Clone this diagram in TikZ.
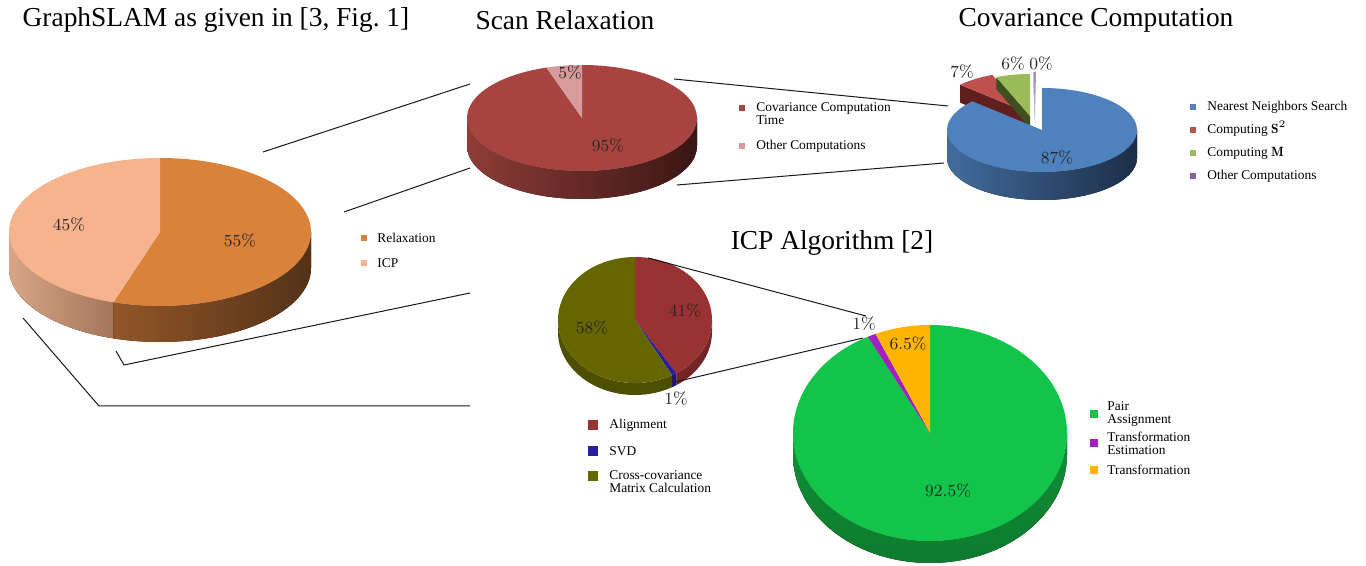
\documentclass[tikz,border=0pt]{standalone}
\usepackage{fontspec}
\usepackage{amsmath}
\usetikzlibrary{calc,positioning}
\newfontfamily\tms{Liberation Serif}

\definecolor{RelaxTop}{RGB}{217,130,59}
\definecolor{RelaxSideL}{RGB}{146,86,40}
\definecolor{RelaxSideR}{RGB}{84,50,24}
\definecolor{IcpTop}{RGB}{245,180,142}
\definecolor{IcpSideL}{RGB}{216,165,135}
\definecolor{IcpSideR}{RGB}{164,118,92}
\definecolor{CovTop}{RGB}{168,68,64}
\definecolor{CovSideL}{RGB}{142,60,56}
\definecolor{CovSideR}{RGB}{58,22,20}
\definecolor{OtherTop}{RGB}{214,155,154}
\definecolor{NnsBlue}{RGB}{79,129,189}
\definecolor{NnsSideL}{RGB}{66,108,158}
\definecolor{NnsSideR}{RGB}{28,46,72}
\definecolor{SRed}{RGB}{192,80,77}
\definecolor{SRedDark}{RGB}{96,30,28}
\definecolor{MGreen}{RGB}{155,187,89}
\definecolor{MGreenDark}{RGB}{62,78,30}
\definecolor{OtherPurple}{RGB}{128,100,162}
\definecolor{AlignRed}{RGB}{153,51,51}
\definecolor{AlignSide}{RGB}{116,38,38}
\definecolor{SvdBlue}{RGB}{40,30,160}
\definecolor{XcovOlive}{RGB}{102,102,0}
\definecolor{XcovSide}{RGB}{78,78,0}
\definecolor{PairGreen}{RGB}{18,196,74}
\definecolor{PairSide}{RGB}{14,122,46}
\definecolor{EstPurple}{RGB}{160,32,192}
\definecolor{TransOrange}{RGB}{255,180,0}

\tikzset{
  ttl/.style={font=\tms\fontsize{13.7}{15}\selectfont},
  pct/.style={font=\fontsize{8.5}{10}\selectfont,text=black!85},
  leg/.style={font=\tms\fontsize{6.7}{6.6}\selectfont,anchor=west,align=left,inner sep=0pt},
  legbox/.style={minimum size=3.4pt,inner sep=0pt,fill=#1},
  zoomline/.style={black!90,line width=0.5pt},
}

% top face, side band and radial face of a 3D pie slice
\newcommand{\pietop}[6]{\fill[#6] ($(#1)+(#4:#2 and #3)$) arc[start angle=#4,end angle=#5,x radius=#2,y radius=#3] -- (#1) -- cycle;}
\newcommand{\pieside}[7]{\fill[#7] ($(#1)+(#5:#2 and #3)$) arc[start angle=#5,end angle=#6,x radius=#2,y radius=#3] -- ++(0,#4) arc[start angle=#6,end angle=#5,x radius=#2,y radius=#3] -- cycle;}
\newcommand{\pieface}[6]{\fill[#6] (#1) -- ($(#1)+(#5:#2 and #3)$) -- ++(0,#4) -- ($(#1)+(0,#4)$) -- cycle;}

\begin{document}
\begin{tikzpicture}[x=0.5pt,y=-0.5pt]
    \useasboundingbox (0,0) rectangle (1366,566);

    % Titles
    \node[ttl] (tslam) at (216,20) {GraphSLAM as given in [3, Fig.~1]};
    \node[ttl] (tscan) at (565,20) {Scan Relaxation};
    \node[ttl] (tcov) at (1096,20) {Covariance Computation};
    \node[ttl] (ticp) at (832,243) {ICP Algorithm [2]};

    % Pie centres
    \coordinate (slamc) at (160,232);
    \coordinate (scanc) at (582,118);
    \coordinate (covc) at (1042,130);
    \coordinate (redc) at (1026,112);
    \coordinate (grnc) at (1030,116);
    \coordinate (purc) at (1035,114);
    \coordinate (icpsc) at (635,320);
    \coordinate (icpbc) at (930,433);

    % GraphSLAM pie
    \pieside{slamc}{151}{74}{36}{0}{108}{left color=RelaxSideL,right color=RelaxSideR}
    \pieside{slamc}{151}{74}{36}{108}{180}{left color=IcpSideL,right color=IcpSideR}
    \pietop{slamc}{151}{74}{-90}{108}{RelaxTop}
    \pietop{slamc}{151}{74}{108}{270}{IcpTop}
    \node[pct] (p45) at (69,225) {45\%};
    \node[pct] (p55) at (240,241) {55\%};

    % Scan relaxation pie
    \pieside{scanc}{115}{53}{28}{0}{180}{left color=CovSideL,right color=CovSideR}
    \pietop{scanc}{115}{53}{-90}{252}{CovTop}
    \pietop{scanc}{115}{53}{252}{270}{OtherTop}
    \node[pct] (p5) at (570,73) {5\%};
    \node[pct] (p95) at (608,146) {95\%};

    % Covariance computation pie
    \pieface{redc}{90}{40}{18}{223}{SRedDark}
    \pietop{redc}{90}{40}{223}{248}{SRed}
    \pieface{grnc}{90}{42}{12}{248}{MGreenDark}
    \pietop{grnc}{90}{42}{248}{270}{MGreen}
    \pieface{purc}{95}{42}{12}{269}{OtherPurple!70}
    \pietop{purc}{95}{42}{269}{270.6}{OtherPurple!70}
    \pieside{covc}{95}{42}{28}{0}{180}{left color=NnsSideL,right color=NnsSideR}
    \pietop{covc}{95}{42}{-90}{223}{NnsBlue}
    \node[pct] (p7) at (962,72) {7\%};
    \node[pct] (p6) at (1013,64) {6\%};
    \node[pct] (p0) at (1041,64) {0\%};
    \node[pct] (p87) at (1057,158) {87\%};

    % ICP small pie
    \pieside{icpsc}{77}{63}{12}{0}{57.6}{AlignSide}
    \pieside{icpsc}{77}{63}{12}{57.6}{61.2}{SvdBlue!70!black}
    \pieside{icpsc}{77}{63}{12}{61.2}{180}{XcovSide}
    \pietop{icpsc}{77}{63}{-90}{57.6}{AlignRed}
    \pietop{icpsc}{77}{63}{57.6}{61.2}{SvdBlue}
    \pietop{icpsc}{77}{63}{61.2}{270}{XcovOlive}
    \node[pct] (p41) at (685,311) {41\%};
    \node[pct] (p58) at (592,328) {58\%};
    \node[pct] (p1s) at (676,399) {1\%};

    % ICP big pie
    \pieside{icpbc}{137}{108}{22}{0}{180}{top color=PairSide!70!PairGreen,bottom color=PairSide}
    \pietop{icpbc}{137}{108}{-90}{243}{PairGreen}
    \pietop{icpbc}{137}{108}{243}{246.6}{EstPurple}
    \pietop{icpbc}{137}{108}{246.6}{270}{TransOrange}
    \node[pct] (p1b) at (864,324) {1\%};
    \node[pct] (p65) at (908,344) {6.5\%};
    \node[pct] (p925) at (948,491) {92.5\%};

    % Legends
    \node[legbox=RelaxTop] (krelax) at (364,238) {};
    \node[leg] (lrelax) at (377,238) {Relaxation};
    \node[legbox=IcpTop] (kicp) at (364,263) {};
    \node[leg] (licp) at (377,263) {ICP};

    \node[legbox=CovTop] (kcovt) at (742,108) {};
    \node[leg] (lcovt) at (756,114) {Covariance Computation\\Time};
    \node[legbox=OtherTop] (koth) at (742,146) {};
    \node[leg] (loth) at (756,146) {Other Computations};

    \node[legbox=NnsBlue] (knns) at (1193,107) {};
    \node[leg] (lnns) at (1207,107) {Nearest Neighbors Search};
    \node[legbox=SRed] (ks) at (1193,130) {};
    \node[leg] (ls) at (1207,129) {Computing $\mathbf{S}^2$};
    \node[legbox=MGreen] (km) at (1193,153) {};
    \node[leg] (lm) at (1207,153) {Computing $\mathbf{M}$};
    \node[legbox=OtherPurple] (kop) at (1193,176) {};
    \node[leg] (lop) at (1207,176) {Other Computations};

    \node[legbox=AlignRed,minimum size=4.6pt] (kal) at (593,425) {};
    \node[leg] (lal) at (609,425) {Alignment};
    \node[legbox=SvdBlue,minimum size=4.6pt] (ksvd) at (593,451) {};
    \node[leg] (lsvd) at (609,451) {SVD};
    \node[legbox=XcovOlive,minimum size=4.6pt] (kxc) at (593,476) {};
    \node[leg] (lxc) at (609,482) {Cross-covariance\\Matrix Calculation};

    \node[legbox=PairGreen,minimum size=4pt] (kpa) at (1094,414) {};
    \node[leg] (lpa) at (1107,414) {Pair\\Assignment};
    \node[legbox=EstPurple,minimum size=4pt] (kte) at (1094,443) {};
    \node[leg] (lte) at (1107,443) {Transformation\\Estimation};
    \node[legbox=TransOrange,minimum size=4pt] (ktr) at (1094,470) {};
    \node[leg] (ltr) at (1107,470) {Transformation};

    % Zoom lines
    \coordinate (l1a) at (263,152); \coordinate (l1b) at (470,84);
    \coordinate (l2a) at (344,212); \coordinate (l2b) at (470,168);
    \coordinate (l3a) at (674,79); \coordinate (l3b) at (948,106);
    \coordinate (l4a) at (677,185); \coordinate (l4b) at (944,163);
    \coordinate (l5a) at (116,351); \coordinate (l5k) at (124,365); \coordinate (l5b) at (470,293);
    \coordinate (l6a) at (23,318); \coordinate (l6k) at (99,406); \coordinate (l6b) at (470,406);
    \coordinate (l7a) at (648,258); \coordinate (l7b) at (866,316);
    \coordinate (l8a) at (675,382); \coordinate (l8b) at (863,338);
    \draw[zoomline] (l1a) -- (l1b);
    \draw[zoomline] (l2a) -- (l2b);
    \draw[zoomline] (l3a) -- (l3b);
    \draw[zoomline] (l4a) -- (l4b);
    \draw[zoomline] (l5a) -- (l5k) -- (l5b);
    \draw[zoomline] (l6a) -- (l6k) -- (l6b);
    \draw[zoomline] (l7a) -- (l7b);
    \draw[zoomline] (l8a) -- (l8b);
\end{tikzpicture}
\end{document}
